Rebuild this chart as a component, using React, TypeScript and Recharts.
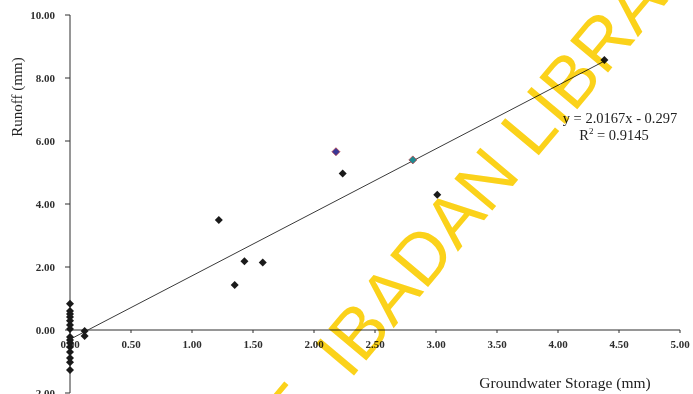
import { ScatterChart, Scatter, XAxis, YAxis, ReferenceLine, ReferenceDot } from 'recharts'

// Groundwater storage vs runoff (mm)
const storageMm = [
  0, 0, 0, 0, 0, 0, 0, 0, 0, 0, 0, 0, 0, 0, 0,
  0.12, 0.12, 1.22, 1.35, 1.43, 1.58, 2.235, 3.01, 4.38,
]
const runoffMm = [
  0.83, 0.6, 0.51, 0.41, 0.29, 0.16, 0.03, -0.22, -0.32, -0.41, -0.54, -0.7, -0.89, -1.02, -1.27,
  -0.03, -0.19, 3.49, 1.43, 2.18, 2.14, 4.97, 4.29, 8.57,
]

// two points that show up coloured in the scan
const highlightStorage = [2.18, 2.81]
const highlightRunoff = [5.66, 5.4]
const HIGHLIGHT_COLORS = ['#3a3896', '#1f8a90']

const xTicks = [0, 0.5, 1, 1.5, 2, 2.5, 3, 3.5, 4, 4.5, 5]
const yTicks = [-2, 0, 2, 4, 6, 8, 10]

// Excel linear trendline
const trendSlope = 2.0167
const trendIntercept = -0.297
const trendRange = [0, 4.38]
const trendLabel = 'y = 2.0167x - 0.297'
const r2Label = '0.9145'

const WATERMARK_START = 'UNIVERSITY OF'
const WATERMARK_END = 'IBADAN LIBRARY'

const points = storageMm.map((x, i) => ({ x, y: runoffMm[i] }))
const highlighted = highlightStorage.map((x, i) => ({ x, y: highlightRunoff[i], color: HIGHLIGHT_COLORS[i] }))

const SERIF = '"Liberation Serif", "Times New Roman", serif'
const AXIS = '#2e2e2e'

const Diamond = (props: any) => {
  const { cx, cy, payload } = props
  const r = 4
  const fill = payload?.color ?? '#1a1a1a'
  return (
    <polygon
      points={`${cx},${cy - r} ${cx + r},${cy} ${cx},${cy + r} ${cx - r},${cy}`}
      fill={fill}
      stroke={payload?.color ? '#b8323c' : 'none'}
      strokeWidth={0.7}
    />
  )
}

const xTickShape = (label: string) => (p: any) => (
  <g>
    <line x1={p.cx} y1={p.cy} x2={p.cx} y2={p.cy + 3} stroke={AXIS} />
    <text
      x={p.cx}
      y={p.cy + 18}
      textAnchor="middle"
      fontFamily={SERIF}
      fontSize={11}
      fontWeight="bold"
      fill={AXIS}
    >
      {label}
    </text>
  </g>
)

export default function App() {
  return (
    <div style={{ position: 'absolute', left: 0, top: 0, width: 693, height: 394, background: '#fff' }}>
      <ScatterChart width={693} height={394} margin={{ top: 15, right: 13, bottom: 1, left: 0 }}>
        <XAxis type="number" dataKey="x" domain={[0, 5]} ticks={xTicks} hide />
        <YAxis
          type="number"
          dataKey="y"
          domain={[-2, 10]}
          ticks={yTicks}
          interval={0}
          width={70}
          tickSize={5}
          tickMargin={10}
          tickFormatter={(v: number) => v.toFixed(2)}
          axisLine={{ stroke: AXIS }}
          tickLine={{ stroke: AXIS }}
          tick={{ fontSize: 11, fontWeight: 'bold', fontFamily: SERIF, fill: AXIS }}
        />
        <ReferenceLine y={0} stroke={AXIS} />
        {xTicks.map((v) => (
          <ReferenceDot key={v} x={v} y={0} r={0} shape={xTickShape(v.toFixed(2))} />
        ))}
        <ReferenceLine
          segment={[
            { x: trendRange[0], y: trendSlope * trendRange[0] + trendIntercept },
            { x: trendRange[1], y: trendSlope * trendRange[1] + trendIntercept },
          ]}
          stroke="#3a3a3a"
          strokeWidth={1}
          ifOverflow="visible"
        />
        <Scatter data={points} shape={Diamond} isAnimationActive={false} />
        <Scatter data={highlighted} shape={Diamond} isAnimationActive={false} />
      </ScatterChart>

      {/* titles and trendline equation */}
      <svg width={693} height={394} style={{ position: 'absolute', left: 0, top: 0, pointerEvents: 'none' }}>
        <text
          x={22}
          y={97}
          transform="rotate(-90, 22, 97)"
          textAnchor="middle"
          fontFamily={SERIF}
          fontSize={15}
          fill="#222"
        >
          Runoff (mm)
        </text>
        <text x={565} y={388} textAnchor="middle" fontFamily={SERIF} fontSize={15.5} fill="#222">
          Groundwater Storage (mm)
        </text>
        <text x={620} y={123} textAnchor="middle" fontFamily={SERIF} fontSize={14.5} fill="#222">
          {trendLabel}
        </text>
        <text x={614} y={140} textAnchor="middle" fontFamily={SERIF} fontSize={14.5} fill="#222">
          R<tspan dy={-6} fontSize={9}>2</tspan>
          <tspan dy={6}>{` = ${r2Label}`}</tspan>
        </text>
      </svg>

      {/* library watermark */}
      <svg
        width={693}
        height={394}
        style={{ position: 'absolute', left: 0, top: 0, pointerEvents: 'none', mixBlendMode: 'multiply' }}
      >
        <text
          x={-30}
          y={833}
          transform="rotate(-50, -30, 833)"
          fontFamily='"Liberation Sans", Arial, sans-serif'
          fontSize={72}
          fill="#fbd21a"
        >
          {WATERMARK_START}
          <tspan dx={40}>{WATERMARK_END}</tspan>
        </text>
      </svg>
    </div>
  )
}
